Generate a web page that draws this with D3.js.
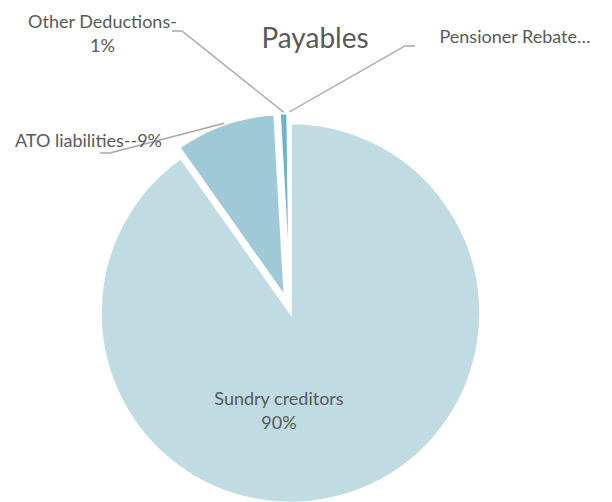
<!DOCTYPE html>
<html>
<head>
<meta charset="utf-8">
<script src="https://cdn.jsdelivr.net/npm/d3@7"></script>
<style>
  body { margin: 0; background: #fff; }
  svg text { font-family: Lato, "Open Sans", sans-serif; fill: #595959; }
</style>
</head>
<body>
<div id="chart"></div>
<script>
// data
const categories = ["Sundry creditors", "ATO liabilities-", "Other Deductions-", "Pensioner Rebate"];
const values = [90.2, 8.9, 0.7, 0.2];
const labelLines = [["Sundry creditors", "90%"], ["ATO liabilities--9%"], ["Other Deductions-", "1%"], ["Pensioner Rebate\u2026"]];
const colors = ["#c1dbe3", "#a0c9d8", "#6ab4cd", "#8fc2d5"];

const width = 612, height = 502;
const cx = 290.5, cy = 313;

// layout of each slice / its label
const explode = [0, 17, 17, 17];
const radius = [190, 183, 183, 183];
const labelPos = [[279, 405], [88.5, 147], [102.5, 28], [515, 43]];
// leader line: [label end x, elbow x, y]
const leaders = [null, [100, 110, 153], [172, 182, 31], [415, 405, 46]];

const svg = d3.select("#chart").append("svg")
    .attr("width", width)
    .attr("height", height);

const pie = d3.pie().sort(null).value(d => d);
const slices = pie(values);

const g = svg.append("g").attr("transform", "translate(" + cx + "," + cy + ")");

function offset(d, i, r) {
    const a = (d.startAngle + d.endAngle) / 2;
    return [Math.sin(a) * r, -Math.cos(a) * r];
}

g.selectAll("path")
    .data(slices)
    .enter()
    .append("path")
    .attr("transform", (d, i) => "translate(" + offset(d, i, explode[i]) + ")")
    .attr("d", (d, i) => d3.arc().innerRadius(0).outerRadius(radius[i])(d))
    .attr("fill", (d, i) => colors[i])
    .attr("stroke", "#fff")
    .attr("stroke-width", 2.5)
    .attr("stroke-linejoin", "miter");

// leader lines
slices.forEach(function(d, i) {
    if (!leaders[i]) return;
    const o = offset(d, i, explode[i] + radius[i] + 1);
    const L = leaders[i];
    svg.append("polyline")
        .attr("points", [[L[0], L[2]], [L[1], L[2]], [cx + o[0], cy + o[1]]].join(" "))
        .attr("fill", "none")
        .attr("stroke", "#a6a6a6")
        .attr("stroke-width", 1.3);
});

// labels
labelLines.forEach(function(lines, i) {
    const t = svg.append("text")
        .attr("x", labelPos[i][0])
        .attr("y", labelPos[i][1])
        .attr("text-anchor", "middle")
        .style("font-size", "18px");
    lines.forEach(function(s, k) {
        t.append("tspan")
            .attr("x", labelPos[i][0])
            .attr("dy", k === 0 ? 0 : 24)
            .text(s);
    });
});

// title
svg.append("text")
    .attr("x", 315)
    .attr("y", 48)
    .attr("text-anchor", "middle")
    .style("font-size", "28px")
    .text("Payables");
</script>
</body>
</html>
